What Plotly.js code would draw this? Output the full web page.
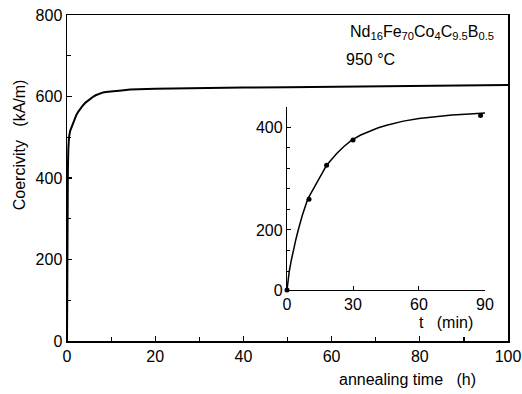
<!DOCTYPE html>
<html>
<head>
<meta charset="utf-8">
<script src="https://cdn.plot.ly/plotly-3.0.1.min.js"></script>
<style>html,body{margin:0;padding:0;background:#fff}#chart{width:522px;height:394px}</style>
</head>
<body>
<div id="chart"></div>
<script>
// Main curve: annealing time (h) vs coercivity (kA/m)
const mainTime = [0, 0.05, 0.1, 0.2, 0.3, 0.45, 0.7, 1.06, 1.4, 1.7, 2.1, 2.57, 3.0, 3.6, 4.2, 4.84, 5.4, 6, 6.5, 7.1, 7.6, 8.2, 8.8, 9.4, 10.5, 12.4, 14.3, 20, 30, 40, 50, 60, 70, 80, 90, 100];
const mainHc   = [0, 200, 300, 420, 470, 500, 515, 526, 536, 545, 554, 563, 570, 578, 585, 591, 596, 600, 603, 606, 608, 610, 611, 612, 613, 615, 617, 619, 621, 622, 623, 624, 625, 626, 627, 628];

// Inset: measured points, t (min) vs coercivity
const insetPtT  = [0, 10, 18, 30, 88];
const insetPtHc = [83, 260, 326, 375, 423];
// Inset fitted curve
const insetCurveT  = [0, 1.0, 2.0, 2.9, 4.0, 5.1, 7.0, 9.4, 11.5, 13.5, 15.8, 18, 20.2, 22.6, 26, 29.4, 33.5, 37.7, 41.5, 45.3, 52.9, 60, 68, 75, 83, 90];
const insetCurveHc = [83, 119, 142, 161, 181, 200, 229, 260, 277, 291, 309, 326, 338, 349, 363, 375, 385, 393, 399, 404, 412, 417, 421, 424, 426, 428];

// Tick labels
const insetYTickVals = [83, 200, 400];
const insetYTickText = ['0', '200', '400'];
const mainYTickVals = [0, 200, 400, 600, 800];
const mainXTickVals = [0, 20, 40, 60, 80, 100];

const FONT = 'Liberation Sans, Arial, Helvetica, sans-serif';

const traces = [
  {x: mainTime, y: mainHc, mode: 'lines', line: {color: '#000', width: 2, shape: 'linear'}, xaxis: 'x', yaxis: 'y', hoverinfo: 'skip'},
  {x: insetCurveT, y: insetCurveHc, mode: 'lines', line: {color: '#000', width: 1.5, shape: 'linear'}, xaxis: 'x2', yaxis: 'y2', hoverinfo: 'skip'},
  {x: insetPtT, y: insetPtHc, mode: 'markers', marker: {color: '#000', size: 5}, xaxis: 'x2', yaxis: 'y2', cliponaxis: false, hoverinfo: 'skip'}
];

const layout = {
  width: 522, height: 394,
  margin: {l: 67, r: 14, t: 15, b: 53},
  paper_bgcolor: '#fff', plot_bgcolor: '#fff',
  showlegend: false,
  font: {family: FONT, size: 15, color: '#000'},
  xaxis: {
    range: [0, 100], domain: [0, 1],
    tickvals: mainXTickVals, ticks: 'inside', ticklen: 5, tickwidth: 1.2, tickcolor: '#000',
    minor: {tickmode: 'linear', tick0: 0, dtick: 10, ticks: 'inside', ticklen: 4, tickcolor: '#000'},
    showline: true, linecolor: '#000', linewidth: 1.5, mirror: true,
    showgrid: false, zeroline: false, tickfont: {size: 16}
  },
  yaxis: {
    range: [0, 800], domain: [0, 1],
    tickvals: mainYTickVals, ticks: 'inside', ticklen: 5, tickwidth: 1.2, tickcolor: '#000',
    minor: {tickmode: 'linear', tick0: 0, dtick: 100, ticks: 'inside', ticklen: 4, tickcolor: '#000'},
    showline: true, linecolor: '#000', linewidth: 1.5, mirror: true,
    showgrid: false, zeroline: false, tickfont: {size: 16}
  },
  xaxis2: {
    anchor: 'y2', range: [0, 90], domain: [0.4989, 0.9478],
    tickvals: [0, 30, 60, 90], ticks: 'inside', ticklen: 4, tickcolor: '#000',
    showline: true, linecolor: '#000', linewidth: 1.2,
    showgrid: false, zeroline: false, tickfont: {size: 16}
  },
  yaxis2: {
    anchor: 'x2', range: [83, 439.5], domain: [0.1564, 0.7178],
    tickvals: insetYTickVals, ticktext: insetYTickText, ticks: 'inside', ticklen: 4, tickcolor: '#000',
    minor: {tickmode: 'linear', tick0: 0, dtick: 40, ticks: 'inside', ticklen: 3, tickcolor: '#000'},
    showline: true, linecolor: '#000', linewidth: 1.2,
    showgrid: false, zeroline: false, tickfont: {size: 16}
  },
  annotations: [
    {xref: 'paper', yref: 'paper', x: 0.771, y: -0.118, xanchor: 'center', yanchor: 'middle', showarrow: false,
     text: 'annealing time&nbsp;&nbsp;&nbsp;(h)', font: {size: 16}},
    {xref: 'paper', yref: 'paper', x: -0.107, y: 0.603, xanchor: 'center', yanchor: 'middle', showarrow: false,
     text: 'Coercivity&nbsp;&nbsp;&nbsp;(kA/m)', textangle: -90, font: {size: 16}},
    {xref: 'paper', yref: 'paper', x: 0.806, y: 0.945, xanchor: 'center', yanchor: 'middle', showarrow: false,
     text: 'Nd<sub>16</sub>Fe<sub>70</sub>Co<sub>4</sub>C<sub>9.5</sub>B<sub>0.5</sub>', font: {size: 16}},
    {xref: 'paper', yref: 'paper', x: 0.628, y: 0.862, xanchor: 'left', yanchor: 'middle', showarrow: false,
     text: '950 °C', font: {size: 16}},
    {xref: 'paper', yref: 'paper', x: 0.859, y: 0.058, xanchor: 'center', yanchor: 'middle', showarrow: false,
     text: 't&nbsp;&nbsp;&nbsp;(min)', font: {size: 16}}
  ]
};

Plotly.newPlot('chart', traces, layout, {staticPlot: true, displayModeBar: false});
</script>
</body>
</html>
